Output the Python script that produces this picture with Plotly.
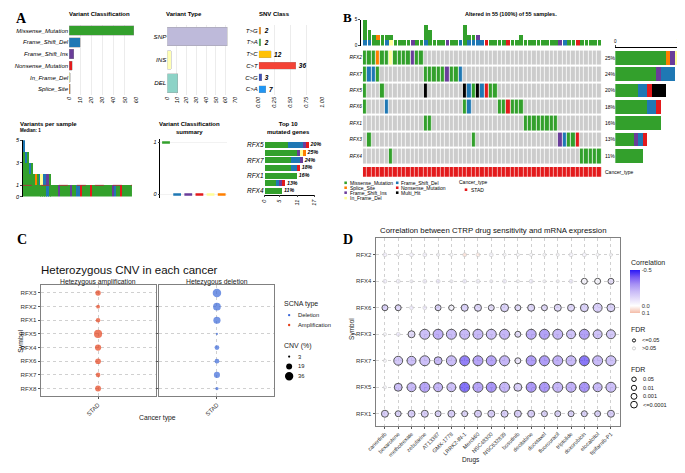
import plotly.graph_objects as go
import numpy as np

W, H = 685, 473
OFF = 8  # page body margin of the browser
def X(px): return (px - OFF) / W
def Y(py): return 1 - (py - OFF) / H

FONT = "Liberation Sans"
SERIF = "Liberation Serif"

# ======================= DATA =======================
# ---- Panel A ----
vc_classes = ["Missense_Mutation", "Frame_Shift_Del", "Frame_Shift_Ins",
              "Nonsense_Mutation", "In_Frame_Del", "Splice_Site"]
vc_codes = ["M", "D", "I", "N", "F", "S"]
vc_counts = [58, 10, 4, 3, 1, 1]
vc_median = [1, 0, 0, 0, 0, 0]

vt_types = ["SNP", "INS", "DEL"]
vt_counts = [62, 4, 11]

snv_classes = ["T>G", "T>A", "T>C", "C>T", "C>G", "C>A"]
snv_counts = [2, 2, 12, 36, 3, 7]

top_genes = ["RFX5", "RFX2", "RFX7", "RFX6", "RFX1", "RFX3", "RFX4"]
top_pct = ["20%", "25%", "24%", "18%", "16%", "13%", "11%"]
top_M = [8, 11, 9, 9, 11, 4, 6]
top_D = [5, 0, 3, 2, 0, 1, 0]
top_I = [1, 1, 1, 0, 0, 1, 0]
top_N = [1, 0, 0, 1, 0, 1, 0]
top_F = [0, 1, 0, 0, 0, 0, 0]
top_S = [0, 1, 0, 0, 0, 0, 0]

# ---- Panel B ----  (M missense, D fs-del, I fs-ins, N nonsense, F in-frame del, S splice, H multi-hit)
onco_genes = ["RFX2", "RFX7", "RFX5", "RFX6", "RFX1", "RFX3", "RFX4"]
onco_pct = ["25%", "24%", "20%", "18%", "16%", "13%", "11%"]
onco_rows = [
    "MMMSMMFMMMMIMM" + "." * 41,
    "MDDM" + "." * 10 + "MMMMMIMMD" + "." * 32,
    "M...M" + "." * 9 + "H" + "." * 8 + "HDMHDNMM" + "." * 24,
    "M....D" + "." * 17 + "MD" + "." * 6 + "MMNMMM" + "." * 18,
    "." * 14 + "MM" + "." * 21 + "M" * 8 + "." * 10,
    ".M" + "." * 23 + "M" + "." * 19 + "IDMMN" + "." * 5,
    "." * 6 + "M" + "." * 43 + "MMMMM",
]
tmb_stack = ["DMMMM", "DMM", "MM", "MS", "MM", "DM", "FM", "M", "M", "M", "M", "I", "M", "M",
             "DMMM", "MMM", "M", "M", "M", "I", "M", "M", "D", "MMMM", "DM", "DM", "DI", "D",
             "N", "M", "M", "M", "M", "N", "M", "M", "MM",
             "M", "M", "M", "M", "M", "M", "M", "M", "I", "D", "M", "M", "N",
             "M", "M", "M", "M", "M"]

# ---- Panel C ----
c_genes = ["RFX3", "RFX2", "RFX1", "RFX5", "RFX4", "RFX6", "RFX7", "RFX8"]
amp_pct = [15, 8, 11, 33, 20, 17, 11, 18]
del_pct = [36, 30, 26, 3, 12, 12, 19, 6]
cnv_legend = [3, 19, 36]

# ---- Panel D ----
drugs = ["canertinib", "bexarotene", "methotrexate", "zebularine", "AT13387", "GMX-1778",
         "LRRK2-IN-1", "Merck60", "NSC48300", "NSC632839", "bosutinib", "decitabine",
         "docetaxel", "fluorouracil", "triptolide", "doxorubicin", "elocalcitol", "tipifarnib-P1"]
d_genes = ["RFX2", "RFX4", "RFX6", "RFX3", "RFX7", "RFX5", "RFX1"]
corr = {
    "RFX2": [-0.06, -0.02, -0.05, -0.05, -0.03, -0.02, 0.06, 0.04, -0.03, -0.02, -0.02, -0.02, -0.02, -0.02, -0.04, -0.04, -0.02, -0.02],
    "RFX4": [-0.06, -0.05, -0.04, -0.06, -0.08, -0.04, -0.07, -0.05, -0.04, -0.06, -0.03, -0.06, -0.03, -0.03, -0.07, -0.04, -0.03, -0.12],
    "RFX6": [-0.18, -0.16, -0.08, -0.08, -0.18, -0.05, -0.18, -0.17, -0.13, -0.18, -0.15, -0.16, -0.15, -0.16, -0.16, -0.18, -0.20, -0.18],
    "RFX3": [-0.03, -0.08, -0.15, -0.25, -0.30, -0.26, -0.27, -0.27, -0.25, -0.28, -0.14, -0.31, -0.34, -0.28, -0.24, -0.34, -0.24, -0.22],
    "RFX7": [-0.03, -0.22, -0.25, -0.25, -0.27, -0.26, -0.42, -0.33, -0.33, -0.28, -0.10, -0.35, -0.35, -0.30, -0.27, -0.44, -0.27, -0.24],
    "RFX5": [-0.03, -0.25, -0.27, -0.33, -0.28, -0.25, -0.45, -0.33, -0.37, -0.28, -0.20, -0.36, -0.36, -0.28, -0.30, -0.37, -0.27, -0.25],
    "RFX1": [-0.20, -0.18, -0.20, -0.20, -0.18, -0.20, -0.17, -0.20, -0.20, -0.20, -0.20, -0.20, -0.18, -0.18, -0.18, -0.18, -0.18, -0.20],
}
fdr = {
    "RFX2": [0.3, 0.8, 0.3, 0.3, 0.8, 0.8, 0.3, 0.3, 0.3, 0.8, 0.8, 0.8, 0.8, 0.8, 0.3, 0.3, 0.8, 0.8],
    "RFX4": [0.3, 0.3, 0.8, 0.3, 0.3, 0.8, 0.3, 0.3, 0.8, 0.3, 0.8, 0.3, 0.8, 0.8, 0.3, 0.02, 0.02, 0.02],
    "RFX6": [0.02, 0.02, 0.3, 0.3, 0.02, 0.04, 0.005, 0.005, 0.02, 0.0015, 0.02, 0.005, 0.02, 0.005, 0.005, 0.0015, 0.0004, 0.0015],
    "RFX3": [0.8, 0.3, 0.005, 1e-4, 1e-4, 1e-4, 1e-4, 1e-4, 1e-4, 1e-4, 0.02, 1e-4, 1e-4, 1e-4, 0.0004, 1e-4, 0.0004, 0.0004],
    "RFX7": [0.8, 0.0004, 0.0004, 1e-4, 0.0015, 1e-4, 1e-4, 1e-4, 1e-4, 1e-4, 0.02, 1e-4, 1e-4, 1e-4, 1e-4, 1e-4, 1e-4, 1e-4],
    "RFX5": [0.8, 0.0015, 0.0004, 1e-4, 0.0004, 0.0004, 1e-4, 1e-4, 1e-4, 1e-4, 0.0015, 1e-4, 1e-4, 1e-4, 1e-4, 1e-4, 0.0004, 1e-4],
    "RFX1": [0.005, 0.02, 0.005, 0.005, 0.02, 0.005, 0.02, 0.005, 0.005, 0.005, 0.005, 0.005, 0.02, 0.02, 0.02, 0.02, 0.02, 0.005],
}
fdr_legend = ["0.05", "0.01", "0.001", "<=0.0001"]

# ======================= STYLE =======================
CLS = {"M": "#33A02C", "D": "#1F78B4", "I": "#6A3D9A", "N": "#E31A1C",
       "F": "#FFFF99", "S": "#FF7F00", "H": "#000000", ".": "#CCCCCC"}
CLS_NAME = {"M": "Missense_Mutation", "D": "Frame_Shift_Del", "I": "Frame_Shift_Ins",
            "N": "Nonsense_Mutation", "F": "In_Frame_Del", "S": "Splice_Site", "H": "Multi_Hit"}
VT_COL = ["#BEBADA", "#FFFFB3", "#8DD3C7"]
SNV_COL = ["#F7931E", "#4CAF50", "#FFC107", "#F44336", "#3F51B5", "#2196F3"]
AMP_COL = "#E4411B"
DEL_COL = "#3A68D8"

def fnt(size, color="#000000", italic=False, bold=False):
    return dict(family=FONT, size=size, color=color,
                style="italic" if italic else "normal",
                weight="bold" if bold else "normal")

fig = go.Figure()
L = {}
ann = []
shp = []

def text(x, y, s, size=7, color="#000000", xa="left", ya="middle", bold=False,
         italic=False, family=FONT, angle=0):
    ann.append(dict(x=X(x), y=Y(y), xref="paper", yref="paper", text=s, showarrow=False,
                    xanchor=xa, yanchor=ya, textangle=angle, borderpad=0,
                    font=dict(family=family, size=size, color=color,
                              weight="bold" if bold else "normal",
                              style="italic" if italic else "normal")))

def circ(cx, cy, d, fill, line="rgba(0,0,0,0)", lw=0):
    shp.append(dict(type="circle", xref="paper", yref="paper",
                    x0=X(cx - d / 2), x1=X(cx + d / 2), y0=Y(cy + d / 2), y1=Y(cy - d / 2),
                    fillcolor=fill, line=dict(color=line, width=lw)))

def rect(x0, y0, x1, y1, fill):
    shp.append(dict(type="rect", xref="paper", yref="paper", x0=X(x0), x1=X(x1),
                    y0=Y(y1), y1=Y(y0), fillcolor=fill, line=dict(width=0)))

GRID = "#ececec"

# ======================= PANEL A =======================
text(13, 16, "A", 14, bold=True, family=SERIF, xa="center")
text(60, 11, "Variant Classification", 6, bold=True)
text(159, 11, "Variant Type", 6, bold=True)
text(253, 11, "SNV Class", 6, bold=True)

# Variant classification
fig.add_trace(go.Bar(x=vc_counts, y=vc_classes, orientation="h", width=0.8,
                     marker=dict(color=[CLS[c] for c in vc_codes], line=dict(color="#8c8c8c", width=0.4)),
                     xaxis="x", yaxis="y", hoverinfo="skip"))
L["xaxis"] = dict(domain=[X(61), X(129)], range=[0, 60], tickvals=list(range(0, 61, 10)),
                  tickangle=-90, tickfont=fnt(5.5, italic=True), showgrid=True, gridcolor=GRID,
                  zeroline=False, anchor="y", ticks="")
L["yaxis"] = dict(domain=[Y(93), Y(22)], autorange="reversed", tickfont=fnt(6, italic=True),
                  anchor="x", ticks="", showgrid=False)

# Variant type
fig.add_trace(go.Bar(x=vt_counts, y=vt_types, orientation="h", width=0.8,
                     marker=dict(color=VT_COL, line=dict(color="#9a9a9a", width=0.4)),
                     xaxis="x2", yaxis="y2", hoverinfo="skip"))
L["xaxis2"] = dict(domain=[X(161), X(230)], range=[0, 70], tickvals=list(range(0, 71, 10)),
                   tickangle=-90, tickfont=fnt(5.5, italic=True), showgrid=True, gridcolor=GRID,
                   zeroline=False, anchor="y2", ticks="")
L["yaxis2"] = dict(domain=[Y(93), Y(22)], autorange="reversed", tickfont=fnt(6.2, italic=True),
                   anchor="x2", ticks="", showgrid=False)

# SNV class
snv_total = sum(snv_counts)
fig.add_trace(go.Bar(x=[c / snv_total for c in snv_counts], y=snv_classes, orientation="h", width=0.6,
                     marker=dict(color=SNV_COL, line=dict(color="#9a9a9a", width=0.3)),
                     text=[str(c) for c in snv_counts], textposition="outside", cliponaxis=False,
                     textfont=fnt(6.5, italic=True, bold=True),
                     xaxis="x3", yaxis="y3", hoverinfo="skip"))
L["xaxis3"] = dict(domain=[X(254), X(319)], range=[0, 1], tickvals=[0, 0.25, 0.5, 0.75, 1],
                   ticktext=["0.00", "0.25", "0.50", "0.75", "1.00"],
                   tickangle=-90, tickfont=fnt(5.5, italic=True), showgrid=True, gridcolor=GRID,
                   zeroline=False, anchor="y3", ticks="")
L["yaxis3"] = dict(domain=[Y(93), Y(22)], autorange="reversed", tickfont=fnt(6, italic=True),
                   anchor="x3", ticks="", showgrid=False)

# Variants per sample
text(10, 122, "Variants per sample", 6, bold=True)
text(10, 129, "Median: 1", 4.5, bold=True)
order = sorted(range(len(tmb_stack)), key=lambda i: -len(tmb_stack[i]))
vps = [tmb_stack[i] for i in order]
for code in ["M", "D", "I", "N", "F", "S"]:
    fig.add_trace(go.Bar(x=list(range(len(vps))), y=[s.count(code) for s in vps], width=0.85,
                         marker=dict(color=CLS[code], line=dict(width=0)),
                         xaxis="x4", yaxis="y4", hoverinfo="skip"))
L["xaxis4"] = dict(domain=[X(14), X(125)], range=[-0.5, len(vps) - 0.5], visible=False, anchor="y4")
L["yaxis4"] = dict(domain=[Y(196), Y(139)], range=[0, 5], tickvals=[0, 1, 3, 5],
                   tickfont=fnt(5.5, italic=True), showline=True, linecolor="#000", linewidth=0.7,
                   ticks="outside", ticklen=2, tickwidth=0.7, showgrid=False, zeroline=False, anchor="x4")
shp.append(dict(type="line", xref="x4 domain", yref="y4", x0=0, x1=1, y0=1, y1=1,
                line=dict(color="#B0303A", width=0.9, dash="dash")))

# Variant classification summary
text(152, 118, "Variant Classification<br>summary", 6, bold=True, ya="top")
for i, (code, med) in enumerate(zip(vc_codes, vc_median)):
    fig.add_trace(go.Scatter(x=[i - 0.35, i + 0.35], y=[med, med], mode="lines",
                             line=dict(color=CLS[code], width=2.5), xaxis="x5", yaxis="y5",
                             hoverinfo="skip"))
L["xaxis5"] = dict(domain=[X(154), X(222)], range=[-0.5, 5.5], showticklabels=False, ticks="",
                   showgrid=False, zeroline=False, anchor="y5")
L["yaxis5"] = dict(domain=[Y(197), Y(138)], range=[-0.06, 1.06], tickvals=[0, 1],
                   tickfont=fnt(5.5, italic=True), showline=True, linecolor="#000", linewidth=0.7,
                   ticks="outside", ticklen=2, tickwidth=0.7, showgrid=True, gridcolor="#f2f2f2",
                   zeroline=False, anchor="x5")

# Top 10 mutated genes
text(261, 118, "Top 10<br>mutated genes", 6, bold=True, ya="top")
top_tbl = {"M": top_M, "D": top_D, "I": top_I, "N": top_N, "F": top_F, "S": top_S}
for code in ["M", "D", "I", "N", "F", "S"]:
    fig.add_trace(go.Bar(x=top_tbl[code], y=top_genes, orientation="h", width=0.78,
                         marker=dict(color=CLS[code], line=dict(width=0)),
                         xaxis="x6", yaxis="y6", hoverinfo="skip"))
top_tot = [sum(v) for v in zip(*top_tbl.values())]
fig.add_trace(go.Scatter(x=[t + 0.6 for t in top_tot], y=top_genes, mode="text", text=top_pct,
                         textposition="middle right", textfont=fnt(5.3, italic=True, bold=True),
                         cliponaxis=False, xaxis="x6", yaxis="y6", hoverinfo="skip"))
L["xaxis6"] = dict(domain=[X(260), X(311)], range=[0, 17], tickvals=[0, 5, 11, 17], tickangle=-90,
                   tickfont=fnt(5.5, italic=True), showline=True, linecolor="#000", linewidth=0.7,
                   ticks="outside", ticklen=2, tickwidth=0.7, showgrid=False, zeroline=False, anchor="y6")
L["yaxis6"] = dict(domain=[Y(194), Y(140)], autorange="reversed", tickfont=fnt(6.5, italic=True),
                   ticks="", showgrid=False, anchor="x6")

# ======================= PANEL B =======================
text(344, 15, "B", 13, bold=True, family=SERIF, xa="center")
text(511, 11, "Altered in 55 (100%) of 55 samples.", 5.5, bold=True, xa="center")
ncol = len(onco_rows[0])

# top bar
for code in ["D", "F", "N", "M", "I", "S"]:
    fig.add_trace(go.Bar(x=list(range(ncol)), y=[s.count(code) for s in tmb_stack], width=0.85,
                         marker=dict(color=CLS[code], line=dict(width=0)),
                         xaxis="x7", yaxis="y7", hoverinfo="skip"))
L["xaxis7"] = dict(domain=[X(360), X(603)], range=[-0.5, ncol - 0.5], visible=False, anchor="y7")
L["yaxis7"] = dict(domain=[Y(43), Y(17)], range=[0, 5], tickvals=[0, 5], tickfont=fnt(4.5),
                   showline=True, linecolor="#000", linewidth=0.6, ticks="outside", ticklen=2,
                   tickwidth=0.6, showgrid=False, zeroline=False, anchor="free", position=X(357))

# matrix
codes_order = [".", "M", "S", "I", "F", "D", "N", "H"]
idx = {c: i for i, c in enumerate(codes_order)}
cs = []
for k, c in enumerate(codes_order):
    cs += [[k / 8, CLS[c]], [(k + 1) / 8, CLS[c]]]
fig.add_trace(go.Heatmap(z=[[idx[ch] for ch in row] for row in onco_rows], x=list(range(ncol)),
                         y=onco_genes, zmin=-0.5, zmax=7.5, colorscale=cs, showscale=False,
                         xgap=0.8, ygap=2, xaxis="x8", yaxis="y8", hoverinfo="skip"))
L["xaxis8"] = dict(domain=[X(360), X(603)], range=[-0.5, ncol - 0.5], visible=False, anchor="y8")
L["yaxis8"] = dict(domain=[Y(163), Y(47)], autorange="reversed", tickfont=fnt(4.8, italic=True),
                   ticks="", showgrid=False, zeroline=False, anchor="x8")
for g, p in zip(onco_genes, onco_pct):
    ann.append(dict(x=X(604), y=g, xref="paper", yref="y8", text=p, showarrow=False,
                    xanchor="left", yanchor="middle", font=fnt(5)))

# cancer type bar
fig.add_trace(go.Heatmap(z=[[1] * ncol], x=list(range(ncol)), y=[0], zmin=0, zmax=2,
                         colorscale=[[0, "#E31A1C"], [1, "#E31A1C"]], showscale=False, xgap=0.6,
                         xaxis="x9", yaxis="y9", hoverinfo="skip"))
L["xaxis9"] = dict(domain=[X(360), X(603)], range=[-0.5, ncol - 0.5], visible=False, anchor="y9")
L["yaxis9"] = dict(domain=[Y(176), Y(166)], visible=False, anchor="x9")
text(605, 171, "Cancer_type", 5)

# right bar
for code in ["M", "S", "I", "F", "D", "N", "H"]:
    fig.add_trace(go.Bar(x=[row.count(code) for row in onco_rows], y=onco_genes, orientation="h",
                         width=0.84, marker=dict(color=CLS[code], line=dict(width=0)),
                         xaxis="x10", yaxis="y10", hoverinfo="skip"))
L["xaxis10"] = dict(domain=[X(617), X(682)], range=[0, 14], tickvals=[0, 14], tickfont=fnt(4.5),
                    side="top", showline=True, linecolor="#000", linewidth=0.6, ticks="outside",
                    ticklen=2, tickwidth=0.6, showgrid=False, zeroline=False, anchor="free",
                    position=Y(44))
L["yaxis10"] = dict(domain=[Y(163), Y(47)], autorange="reversed", visible=False, anchor="x10")

# legend B
leg_b = [("M", 342.5, 182), ("S", 342.5, 187), ("I", 342.5, 192), ("F", 342.5, 197.5),
         ("D", 395, 182), ("N", 395, 187), ("H", 395, 192)]
for code, lx, ly in leg_b:
    rect(lx - 1.3, ly - 1.3, lx + 1.3, ly + 1.3, CLS[code])
    text(lx + 3, ly, CLS_NAME[code], 5)
text(457, 181.5, "Cancer_type", 5)
rect(463.7, 187.7, 466.3, 190.3, "#E31A1C")
text(469, 189, "STAD", 5)

# ======================= PANEL C =======================
text(13, 239, "C", 14, bold=True, family=SERIF, xa="center")
text(31, 270, "Heterozygous CNV in each cancer", 11.5, color="#111")

def cnv_size(v):
    return 2.2 + 6.3 * (np.sqrt(v) - np.sqrt(3)) / (6 - np.sqrt(3))

for vals, col, xa, ya in [(amp_pct, AMP_COL, "x11", "y11"), (del_pct, DEL_COL, "x12", "y12")]:
    fig.add_trace(go.Scatter(x=["STAD"] * len(c_genes), y=c_genes, mode="markers",
                             marker=dict(color=col, size=[cnv_size(v) for v in vals], line=dict(width=0)),
                             xaxis=xa, yaxis=ya, hoverinfo="skip"))
c_ax = dict(showline=True, mirror=True, linecolor="#808080", linewidth=1, showgrid=True,
            gridcolor="#d0d0d0", griddash="dot", gridwidth=0.7, zeroline=False, ticks="outside",
            ticklen=2, tickcolor="#555", tickwidth=0.6)
L["xaxis11"] = dict(domain=[X(32), X(149)], range=[-0.6, 0.6], tickangle=-45,
                    tickfont=fnt(6, "#333"), anchor="y11", **c_ax)
L["yaxis11"] = dict(domain=[Y(398), Y(286)], categoryorder="array", categoryarray=c_genes[::-1],
                    range=[-0.55, 7.55], tickfont=fnt(6.2, "#333"), anchor="x11", **c_ax)
L["xaxis12"] = dict(domain=[X(153), X(270)], range=[-0.6, 0.6], tickangle=-45,
                    tickfont=fnt(6, "#333"), anchor="y12", **c_ax)
L["yaxis12"] = dict(domain=[Y(398), Y(286)], categoryorder="array", categoryarray=c_genes[::-1],
                    range=[-0.55, 7.55], showticklabels=False, anchor="x12", **c_ax)
text(90.5, 287.5, "Hetezygous amplification", 6.8, color="#1a1a1a", xa="center", ya="bottom")
text(211.5, 287.5, "Hetezygous deletion", 6.8, color="#1a1a1a", xa="center", ya="bottom")
text(12, 342, "Symbol", 6.8, color="#1a1a1a", xa="center", angle=-90)
text(151, 420, "Cancer type", 6.8, color="#1a1a1a", xa="center")
# legend C
text(279, 305, "SCNA type", 7, color="#1a1a1a")
circ(285, 316, 2.4, DEL_COL)
text(293, 316, "Deletion", 5.8, color="#1a1a1a")
circ(285, 326, 2.4, AMP_COL)
text(293, 326, "Amplification", 5.8, color="#1a1a1a")
text(279, 347, "CNV (%)", 7, color="#1a1a1a")
for v, ly in zip(cnv_legend, [358, 368, 378]):
    circ(285, ly, cnv_size(v), "#000")
    text(293, ly, str(v), 5.8, color="#1a1a1a")

# ======================= PANEL D =======================
text(345, 239, "D", 14, bold=True, family=SERIF, xa="center")
text(376, 230, "Correlation between CTRP drug sensitivity and mRNA expression", 7.8, color="#111")

def fdr_size(f):
    return 3 + 1.75 * min(-np.log10(f), 4)

dx, dy, dc, ds, dl, dw = [], [], [], [], [], []
for g in d_genes:
    for j, dname in enumerate(drugs):
        dx.append(dname)
        dy.append(g)
        dc.append(-corr[g][j])
        f = fdr[g][j]
        ds.append(fdr_size(f))
        dl.append("#111111" if f <= 0.05 else "#c4c4c4")
        dw.append(1.0 if f <= 0.05 else 0.8)
cscale = [[0, "#F4BCA8"], [1 / 6, "#FFFFFF"], [2 / 6, "#E4DCFA"], [3 / 6, "#C9BBF7"],
          [4 / 6, "#A791F4"], [5 / 6, "#785AF3"], [1, "#2A18F6"]]
fig.add_trace(go.Scatter(
    x=dx, y=dy, mode="markers", xaxis="x13", yaxis="y13", hoverinfo="skip",
    marker=dict(color=dc, cmin=-0.1, cmax=0.5, colorscale=cscale, size=ds,
                line=dict(color=dl, width=dw),
                colorbar=dict(x=X(632), xanchor="left", y=Y(270), yanchor="top",
                              lenmode="pixels", len=43, thicknessmode="pixels", thickness=10,
                              xpad=0, ypad=0, outlinewidth=0, ticks="",
                              tickvals=[0.5, 0.0, -0.1], ticktext=["-0.5", "0.0", "0.1"],
                              tickfont=fnt(5.8, "#333")))))
d_ax = dict(showline=True, mirror=True, linecolor="#808080", linewidth=1, showgrid=True,
            gridcolor="#d0d0d0", griddash="dot", gridwidth=0.7, zeroline=False, ticks="outside",
            ticklen=2, tickcolor="#555", tickwidth=0.6)
L["xaxis13"] = dict(domain=[X(373), X(622)], categoryorder="array", categoryarray=drugs,
                    range=[-0.7, len(drugs) - 0.3], tickangle=-45, tickfont=fnt(5.5, "#333"),
                    anchor="y13", **d_ax)
L["yaxis13"] = dict(domain=[Y(428), Y(238)], categoryorder="array", categoryarray=d_genes[::-1],
                    range=[-0.45, 6.63], tickfont=fnt(6, "#333"), anchor="x13", **d_ax)
text(470, 463, "Drugs", 6.5, color="#1a1a1a", xa="center")
text(349, 330, "Symbol", 6.5, color="#1a1a1a", xa="center", angle=-90)
# legends D
text(632, 263, "Correlation", 7, color="#1a1a1a")
text(632, 331, "FDR", 7, color="#1a1a1a")
circ(636, 341.7, 3.2, "#ffffff", "#111111", 1)
text(643, 341.7, "<=0.05", 5.6, color="#1a1a1a")
circ(636, 349.7, 3.2, "#ffffff", "#c4c4c4", 0.8)
text(643, 349.7, ">0.05", 5.6, color="#1a1a1a")
text(632, 370.7, "FDR", 7, color="#1a1a1a")
for lab, d, ly in zip(fdr_legend, [4.6, 5.3, 6.0, 6.8], [381, 389.7, 398.3, 406.7]):
    circ(636, ly, d, "#ffffff", "#111111", 1)
    text(644, ly, lab, 5.6, color="#1a1a1a")

fig.update_layout(width=W, height=H, margin=dict(l=0, r=0, t=0, b=0),
                  paper_bgcolor="white", plot_bgcolor="white", barmode="stack",
                  showlegend=False, font=dict(family=FONT), annotations=ann, shapes=shp, **L)
fig.write_html("out.html")
